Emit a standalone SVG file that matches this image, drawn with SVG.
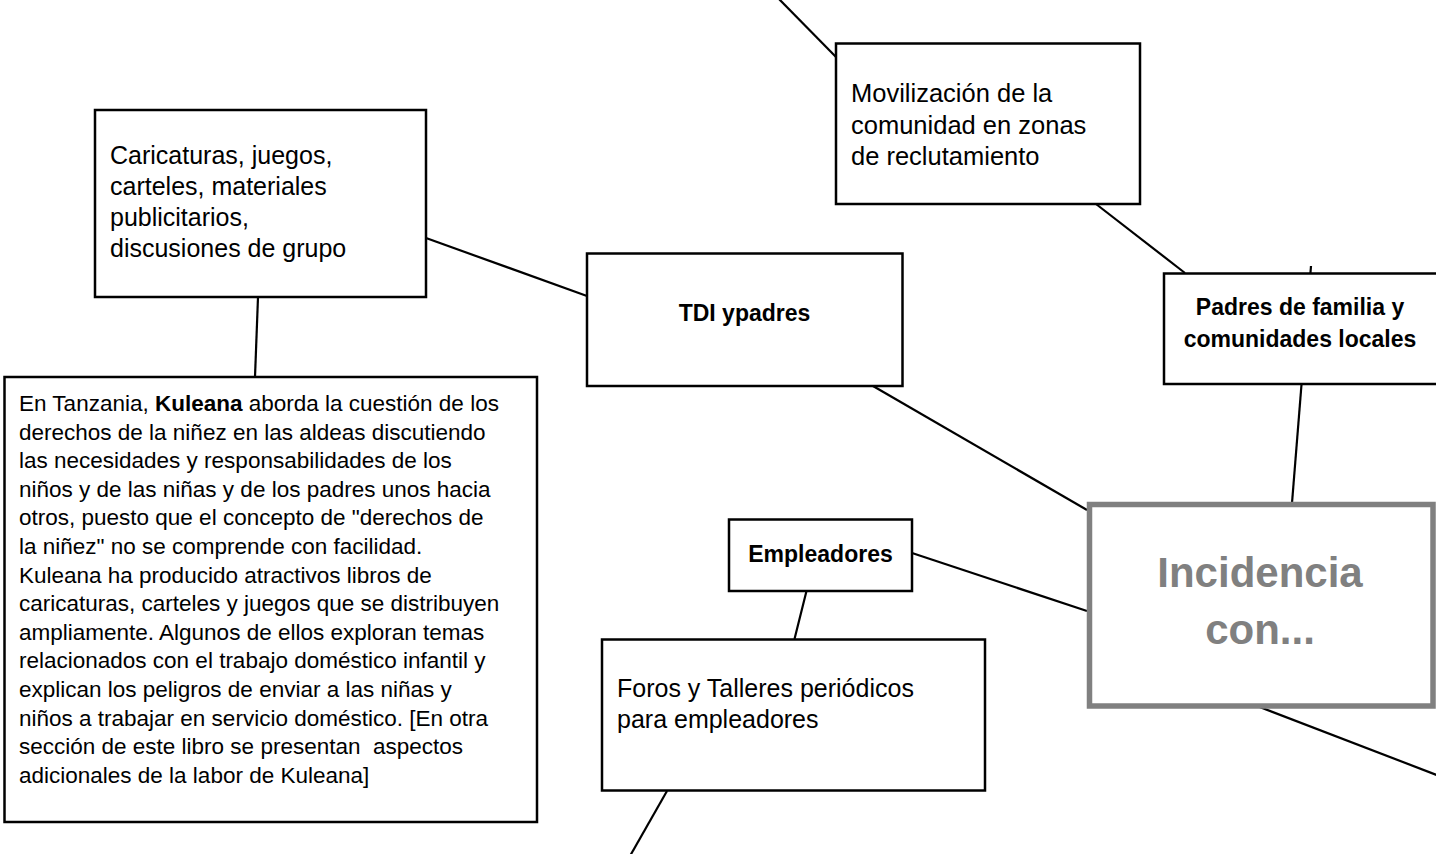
<svg xmlns="http://www.w3.org/2000/svg" width="1436" height="854" viewBox="0 0 1436 854">
<style>
.bx{fill:#fff;stroke:#000;stroke-width:2.5}
.ln{stroke:#000;stroke-width:2.2;fill:none}
.t{font-family:"Liberation Sans",Arial,sans-serif;fill:#000}
.b{font-weight:bold}
.inc{font-family:"Liberation Sans",Arial,sans-serif;font-weight:bold;fill:#808080;font-size:42px}
</style>
<rect width="1436" height="854" fill="#fff"/>
<g id="connectors">
<line class="ln" x1="778" y1="-2" x2="836" y2="57"/>
<line class="ln" x1="1096" y1="204" x2="1185" y2="273"/>
<line class="ln" x1="1311" y1="266" x2="1292" y2="503"/>
<line class="ln" x1="426" y1="238" x2="587" y2="296"/>
<line class="ln" x1="258" y1="297" x2="255" y2="377"/>
<line class="ln" x1="873" y1="386" x2="1087" y2="510"/>
<line class="ln" x1="912" y1="553" x2="1087" y2="611"/>
<line class="ln" x1="806.5" y1="591" x2="794.5" y2="639"/>
<line class="ln" x1="667" y1="791" x2="630" y2="856"/>
<line class="ln" x1="1257" y1="706" x2="1442" y2="777"/>
</g>
<g id="movilizacion">
<rect class="bx" x="836" y="43.5" width="304" height="160.5"/>
<text class="t" font-size="25.5"><tspan x="851" y="102">Movilización de la</tspan><tspan x="851" y="133.5">comunidad en zonas</tspan><tspan x="851" y="165">de reclutamiento</tspan></text>
</g>
<g id="padres">
<rect class="bx" x="1164" y="273.5" width="280" height="110.5"/>
<text class="t b" font-size="23" text-anchor="middle"><tspan x="1300" y="315">Padres de familia y</tspan><tspan x="1300" y="347">comunidades locales</tspan></text>
</g>
<g id="caricaturas">
<rect class="bx" x="95" y="110" width="331" height="187"/>
<text class="t" font-size="25"><tspan x="110" y="163.5">Caricaturas, juegos,</tspan><tspan x="110" y="194.5">carteles, materiales</tspan><tspan x="110" y="225.5">publicitarios,</tspan><tspan x="110" y="256.5">discusiones de grupo</tspan></text>
</g>
<g id="tdi">
<rect class="bx" x="587" y="253.5" width="315.5" height="132.5"/>
<text class="t b" font-size="23" x="744.5" y="321" text-anchor="middle">TDI ypadres</text>
</g>
<g id="kuleana">
<rect class="bx" x="4.5" y="377" width="532.5" height="445"/>
<text class="t" font-size="22.5">
<tspan x="19" y="411">En Tanzania, <tspan font-weight="bold">Kuleana</tspan> aborda la cuestión de los</tspan>
<tspan x="19" y="439.6">derechos de la niñez en las aldeas discutiendo</tspan>
<tspan x="19" y="468.2">las necesidades y responsabilidades de los</tspan>
<tspan x="19" y="496.8">niños y de las niñas y de los padres unos hacia</tspan>
<tspan x="19" y="525.4">otros, puesto que el concepto de "derechos de</tspan>
<tspan x="19" y="554">la niñez" no se comprende con facilidad.</tspan>
<tspan x="19" y="582.6">Kuleana ha producido atractivos libros de</tspan>
<tspan x="19" y="611.2">caricaturas, carteles y juegos que se distribuyen</tspan>
<tspan x="19" y="639.8">ampliamente. Algunos de ellos exploran temas</tspan>
<tspan x="19" y="668.4">relacionados con el trabajo doméstico infantil y</tspan>
<tspan x="19" y="697">explican los peligros de enviar a las niñas y</tspan>
<tspan x="19" y="725.6">niños a trabajar en servicio doméstico. [En otra</tspan>
<tspan x="19" y="754.2">sección de este libro se presentan &#160;aspectos</tspan>
<tspan x="19" y="782.8">adicionales de la labor de Kuleana]</tspan>
</text>
</g>
<g id="empleadores">
<rect class="bx" x="729" y="519.5" width="183" height="71.5"/>
<text class="t b" font-size="23" x="820.5" y="562" text-anchor="middle">Empleadores</text>
</g>
<g id="foros">
<rect class="bx" x="602" y="639.5" width="383" height="151"/>
<text class="t" font-size="25"><tspan x="617" y="697">Foros y Talleres periódicos</tspan><tspan x="617" y="728">para empleadores</tspan></text>
</g>
<g id="incidencia">
<rect x="1089.5" y="504.5" width="343.5" height="201.5" fill="#fff" stroke="#808080" stroke-width="5.5"/>
<text class="inc" text-anchor="middle"><tspan x="1260" y="586.5">Incidencia</tspan><tspan x="1260" y="644">con...</tspan></text>
</g>
</svg>
